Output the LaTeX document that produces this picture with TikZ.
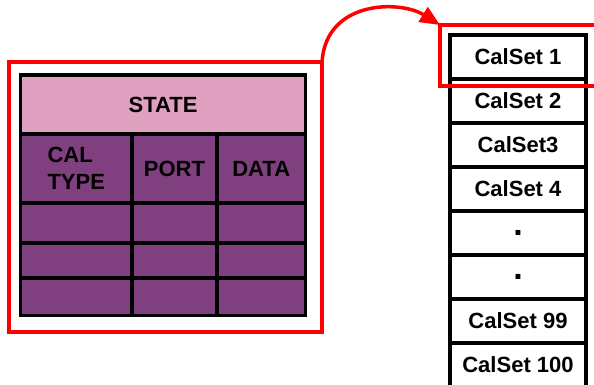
\documentclass[tikz,border=0pt]{standalone}
\usepackage{fontspec}
\setmainfont{Liberation Sans}
\usetikzlibrary{positioning,arrows.meta}
\definecolor{statepink}{HTML}{E0A0C0}
\definecolor{cellpurple}{HTML}{804080}

\begin{document}
\begin{tikzpicture}[
                x=1pt, y=-1pt,
                node distance=0pt,
                cellbox/.style={rectangle, draw=black, line width=3.5pt, fill=cellpurple, outer sep=0pt, inner sep=0pt, anchor=north west, align=left, font=\fontsize{22}{27}\selectfont\bfseries},
                statebox/.style={cellbox, fill=statepink},
                setbox/.style={rectangle, draw=black, line width=3.5pt, fill=white, outer sep=0pt, inner sep=0pt, minimum width=136pt, minimum height=44pt, font=\fontsize{22}{26}\selectfont\bfseries},
                dotbox/.style={setbox, font=\fontsize{34}{34}\selectfont\bfseries},
                redframe/.style={rectangle, draw=red, line width=3.5pt, outer sep=0pt, inner sep=0pt, anchor=north west},
                arrow/.style={-{Triangle[length=20pt, width=17pt]}, draw=red, line width=3.5pt}
            ]
                \clip (0,0) rectangle (594,385);

                % Red frame round the state table
                \node[redframe, minimum width=313pt, minimum height=270pt] (frame) at (9,62) {};

                % State table
                \node[statebox, minimum width=285pt, minimum height=59pt, align=center] (state) at (20.5,75) {STATE};
                \node[cellbox, minimum width=111.5pt, minimum height=69pt] (caltype) at (state.south west) {CAL\\TYPE};
                \node[cellbox, minimum width=85pt, minimum height=69pt] (port) at (caltype.north east) {PORT};
                \node[cellbox, minimum width=88.5pt, minimum height=69pt] (data) at (port.north east) {DATA};
                \foreach \r/\top/\h in {1/203/40, 2/243/35, 3/278/37.5} {
                    \node[cellbox, minimum width=111.5pt, minimum height=\h pt] (type\r) at (20.5,\top) {};
                    \node[cellbox, minimum width=85pt, minimum height=\h pt] (port\r) at (type\r.north east) {};
                    \node[cellbox, minimum width=88.5pt, minimum height=\h pt] (data\r) at (port\r.north east) {};
                }

                % Stack of cal sets
                \node[setbox] (set1) at (518,57) {CalSet 1};
                \node[setbox, below=of set1] (set2) {CalSet 2};
                \node[setbox, below=of set2] (set3) {CalSet3};
                \node[setbox, below=of set3] (set4) {CalSet 4};
                \node[dotbox, below=of set4] (dot1) {.};
                \node[dotbox, below=of dot1] (dot2) {.};
                \node[setbox, below=of dot2] (set99) {CalSet 99};
                \node[setbox, below=of set99] (set100) {CalSet 100};

                % Highlight of the first cal set
                \node[redframe, minimum width=170pt, minimum height=61pt] (hilite) at (440,25) {};

                % Connector from the table to the highlighted set
                \draw[arrow] (frame.north east) .. controls (326,0) and (400,0) .. (hilite.north west);
            \end{tikzpicture}
\end{document}
